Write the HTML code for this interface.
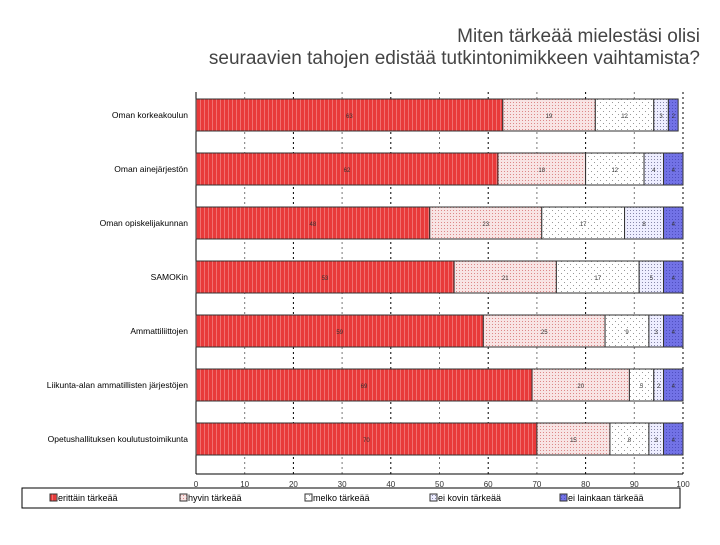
<!DOCTYPE html>
<html><head><meta charset="utf-8"><style>
body{margin:0;background:#fff;width:720px;height:540px;overflow:hidden;font-family:"Liberation Sans",sans-serif}
</style></head><body>
<svg id="c" width="720" height="540" xmlns="http://www.w3.org/2000/svg">
<defs>
<pattern id="p0" width="4" height="4" patternUnits="userSpaceOnUse"><rect width="4" height="4" fill="#e83a3a"/><rect width="1" height="4" fill="#f07070"/></pattern>
<pattern id="p1" width="3" height="3" patternUnits="userSpaceOnUse"><rect width="3" height="3" fill="#f8e4e4"/><rect width="1" height="1" fill="#d88"/></pattern>
<pattern id="p2" width="6" height="6" patternUnits="userSpaceOnUse"><rect width="6" height="6" fill="#fff"/><rect width="1" height="1" fill="#999"/><rect x="3" y="3" width="1" height="1" fill="#999"/></pattern>
<pattern id="p3" width="3" height="3" patternUnits="userSpaceOnUse"><rect width="3" height="3" fill="#eef"/><rect width="1" height="1" fill="#88a"/></pattern>
<pattern id="p4" width="3" height="3" patternUnits="userSpaceOnUse"><rect width="3" height="3" fill="#7272e6"/><rect width="1" height="1" fill="#5050c0"/></pattern>
</defs>
<text x="700" y="42" text-anchor="end" font-size="19" fill="#444">Miten tärkeää mielestäsi olisi</text>
<text x="700" y="64" text-anchor="end" font-size="19" fill="#444">seuraavien tahojen edistää tutkintonimikkeen vaihtamista?</text>
<g id="g"></g>
</svg>
<script>
const categories=["Oman korkeakoulun","Oman ainejärjestön","Oman opiskelijakunnan","SAMOKin","Ammattiliittojen","Liikunta-alan ammatillisten järjestöjen","Opetushallituksen koulutustoimikunta"];
const sErittain=[63,62,48,53,59,69,70];
const sHyvin=[19,18,23,21,25,20,15];
const sMelko=[12,12,17,17,9,5,8];
const sEiKovin=[3,4,8,5,3,2,3];
const sEiLainkaan=[2,4,4,4,4,4,4];
const seriesNames=["erittäin tärkeää","hyvin tärkeää","melko tärkeää","ei kovin tärkeää","ei lainkaan tärkeää"];
const ticks=[0,10,20,30,40,50,60,70,80,90,100];
const NS="http://www.w3.org/2000/svg";
const g=document.getElementById('g');
const X0=196,X1=683,Y0=92,BH=54;
const x=v=>X0+(X1-X0)*v/100;
const yRow=i=>Y0+i*BH;
function mk(t,a,p){const e=document.createElementNS(NS,t);for(const k in a)e.setAttribute(k,a[k]);(p||g).appendChild(e);return e;}
// grid
ticks.forEach(t=>{
 const l=mk('line',{x1:x(t),x2:x(t),y1:Y0,y2:yRow(7)+4,stroke:t%20==0?'#000':'#777','stroke-width':1,'stroke-dasharray':'2,3'});
 
 
 const tx=mk('text',{x:x(t),y:yRow(7)+17,'text-anchor':'middle','font-size':8,fill:'#333'});
 tx.textContent=t;
 
 
});
const ax=mk('line',{x1:X0,x2:X1,y1:yRow(7)+4,y2:yRow(7)+4,stroke:'#000'});


const ay=mk('line',{x1:X0,x2:X0,y1:Y0,y2:yRow(7)+4,stroke:'#000'});


const series=[sErittain,sHyvin,sMelko,sEiKovin,sEiLainkaan];
categories.forEach((c,i)=>{
 const yt=yRow(i)+7,h=32;
 const lb=mk('text',{x:188,y:yt+h/2+3,'text-anchor':'end','font-size':8.5,fill:'#000'});
 lb.textContent=c;
 
 
 let cum=0;
 series.forEach((s,k)=>{
  const v=s[i];
  const r=mk('rect',{x:x(cum),y:yt,width:x(cum+v)-x(cum),height:h,fill:'url(#p'+k+')',stroke:'#333','stroke-width':1});
  
  
  const t=mk('text',{x:(x(cum)+x(cum+v))/2,y:yt+h/2+3,'text-anchor':'middle','font-size':6,fill:'#333'});
  t.textContent=v;
  
  
  cum+=v;
 });
});
// legend
const lg=mk('rect',{x:22,y:488,width:658,height:20,fill:'#fff',stroke:'#000'});


const lx=[50,180,305,430,560];
seriesNames.forEach((n,k)=>{
 const b=mk('rect',{x:lx[k],y:494,width:7,height:7,fill:'url(#p'+k+')',stroke:'#333'});
 
 
 const t=mk('text',{x:lx[k]+8,y:501,'font-size':9,fill:'#000'});
 t.textContent=n;
 
 
});
</script>
</body></html>
